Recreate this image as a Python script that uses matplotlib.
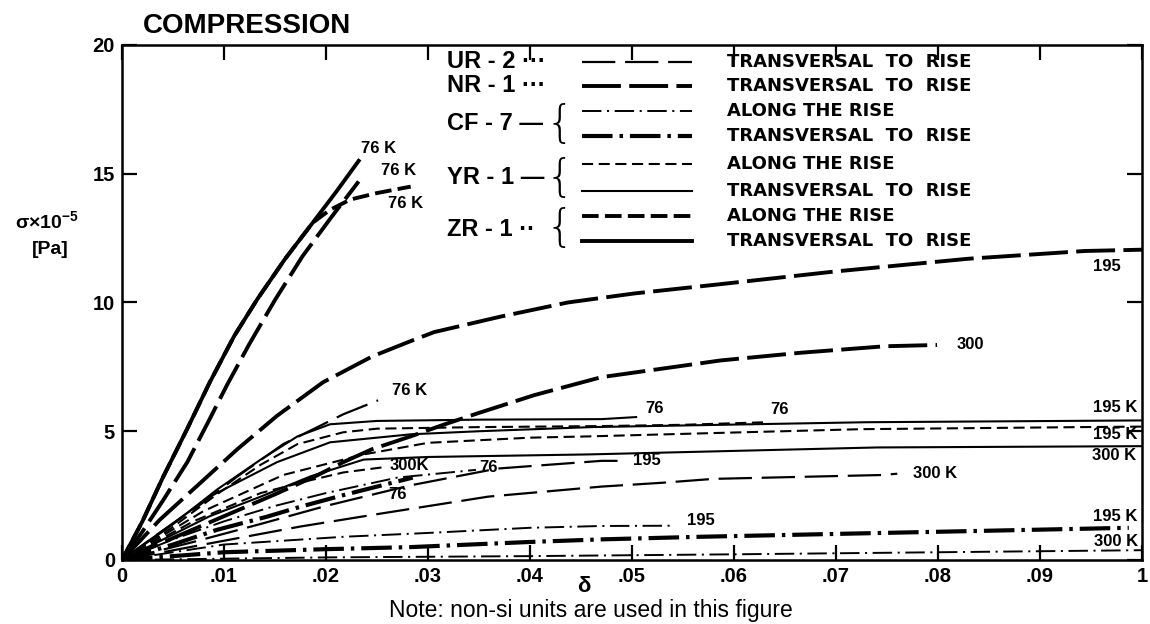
import matplotlib.pyplot as plt
from matplotlib.lines import Line2D

plt.rcParams['font.family'] = ['Liberation Sans', 'DejaVu Sans']
plt.rcParams['font.weight'] = 'bold'
plt.rcParams['lines.scale_dashes'] = False
plt.rcParams['mathtext.default'] = 'regular'

# strain delta vs. stress sigma x 1e-5 [Pa]
# NR-1, transversal to rise
nr1_76_x = [0, 0.002, 0.004, 0.0064, 0.0085, 0.0103, 0.0125, 0.015, 0.0177, 0.0205, 0.0232]
nr1_76_y = [0, 1.1, 2.3, 3.8, 5.4, 6.8, 8.4, 10.1, 11.8, 13.3, 14.7]
nr1_195_x = [0, 0.0037, 0.0077, 0.0113, 0.0152, 0.0197, 0.0245, 0.0283, 0.0306, 0.0371,
             0.0437, 0.0502, 0.0584, 0.0698, 0.083, 0.0944, 0.1]
nr1_195_y = [0, 1.56, 3.0, 4.3, 5.6, 6.9, 7.9, 8.5, 8.85, 9.45, 10.0, 10.35, 10.7, 11.2, 11.7, 12.0, 12.05]
nr1_300_x = [0, 0.005, 0.01, 0.015, 0.0192, 0.0217, 0.0245, 0.0283, 0.0315, 0.0349, 0.0404,
             0.047, 0.0587, 0.0666, 0.0748, 0.0799]
nr1_300_y = [0, 0.85, 1.7, 2.55, 3.3, 3.8, 4.3, 4.8, 5.25, 5.7, 6.4, 7.1, 7.75, 8.05, 8.3, 8.35]

# UR-2, transversal to rise
ur2_76_x = [0, 0.0035, 0.0074, 0.0113, 0.0158, 0.0217, 0.0251]
ur2_76_y = [0, 1.0, 2.07, 3.24, 4.5, 5.66, 6.2]
ur2_195_x = [0, 0.007, 0.0136, 0.02, 0.0283, 0.0368, 0.047, 0.049]
ur2_195_y = [0, 0.7, 1.4, 2.1, 2.9, 3.55, 3.85, 3.85]
ur2_300_x = [0, 0.008, 0.0175, 0.0247, 0.0359, 0.047, 0.053, 0.058, 0.0745, 0.076]
ur2_300_y = [0, 0.6, 1.3, 1.76, 2.46, 2.85, 3.0, 3.15, 3.3, 3.35]

# ZR-1
zr1_trans_76_x = [0, 0.002, 0.004, 0.0064, 0.0086, 0.011, 0.0133, 0.016, 0.0187, 0.021, 0.0232]
zr1_trans_76_y = [0, 1.5, 3.2, 5.1, 6.9, 8.7, 10.15, 11.7, 13.1, 14.3, 15.5]
zr1_along_76_x = [0, 0.002, 0.004, 0.0064, 0.0086, 0.011, 0.0133, 0.016, 0.0187, 0.0204,
                  0.0224, 0.025, 0.0283]
zr1_along_76_y = [0, 1.5, 3.2, 5.1, 6.9, 8.7, 10.15, 11.7, 13.1, 13.6, 14.0, 14.25, 14.5]

# YR-1
yr1_trans_76_x = [0, 0.0047, 0.0093, 0.0136, 0.0172, 0.0204, 0.025, 0.035, 0.047, 0.0504]
yr1_trans_76_y = [0, 1.3, 2.73, 3.9, 4.8, 5.27, 5.4, 5.45, 5.47, 5.55]
yr1_along_76_x = [0, 0.0047, 0.0093, 0.0136, 0.0172, 0.0217, 0.025, 0.035, 0.047, 0.055, 0.0632]
yr1_along_76_y = [0, 1.2, 2.55, 3.7, 4.5, 4.96, 5.1, 5.16, 5.2, 5.25, 5.35]
yr1_trans_195_x = [0, 0.0086, 0.0152, 0.0204, 0.0283, 0.035, 0.046, 0.073, 0.1]
yr1_trans_195_y = [0, 2.46, 3.8, 4.57, 4.88, 5.0, 5.16, 5.35, 5.42]
yr1_along_195_x = [0, 0.008, 0.0158, 0.0237, 0.03, 0.04, 0.0458, 0.06, 0.0725, 0.094, 0.1]
yr1_along_195_y = [0, 1.9, 3.3, 4.1, 4.55, 4.75, 4.8, 4.95, 5.08, 5.16, 5.18]
yr1_trans_300_x = [0, 0.0086, 0.0136, 0.0185, 0.0237, 0.03, 0.0458, 0.074, 0.1]
yr1_trans_300_y = [0, 1.7, 2.46, 3.25, 3.9, 4.0, 4.1, 4.37, 4.42]
yr1_along_300_x = [0, 0.007, 0.0136, 0.0185, 0.0217, 0.0256]
yr1_along_300_y = [0, 1.5, 2.6, 3.1, 3.4, 3.6]

# CF-7
cf7_along_76_x = [0, 0.005, 0.01, 0.015, 0.02, 0.027, 0.0347]
cf7_along_76_y = [0, 0.8, 1.5, 2.1, 2.6, 3.2, 3.5]
cf7_trans_76_x = [0, 0.005, 0.0093, 0.0142, 0.0175, 0.022, 0.027, 0.0285]
cf7_trans_76_y = [0, 0.6, 1.17, 1.68, 2.07, 2.55, 3.05, 3.2]
cf7_along_195_x = [0, 0.01, 0.0217, 0.03, 0.04, 0.047, 0.0538]
cf7_along_195_y = [0, 0.6, 0.9, 1.05, 1.25, 1.32, 1.33]
cf7_trans_195_x = [0, 0.01, 0.02, 0.0283, 0.04, 0.047, 0.0566, 0.0745, 0.0987]
cf7_trans_195_y = [0, 0.3, 0.42, 0.5, 0.7, 0.8, 0.9, 1.05, 1.25]
cf7_along_300_x = [0, 0.02, 0.04, 0.06, 0.08, 0.1]
cf7_along_300_y = [0, 0.1, 0.15, 0.22, 0.3, 0.38]

x_ticks = [0, 0.01, 0.02, 0.03, 0.04, 0.05, 0.06, 0.07, 0.08, 0.09, 0.1]
x_tick_labels = ['0', '.01', '.02', '.03', '.04', '.05', '.06', '.07', '.08', '.09', '1']
y_ticks = [0, 5, 10, 15, 20]
y_tick_labels = ['0', '5', '10', '15', '20']

STYLES = {
    'UR-2': dict(lw=1.6, ls=(0, (24, 7))),
    'NR-1': dict(lw=2.8, ls=(0, (28, 6))),
    'CF-7 along': dict(lw=1.4, ls=(0, (14, 4, 1.5, 4))),
    'CF-7 trans': dict(lw=3.0, ls=(0, (22, 5, 2.5, 5))),
    'YR-1 along': dict(lw=1.5, ls=(0, (8, 4))),
    'YR-1 trans': dict(lw=1.5, ls='-'),
    'ZR-1 along': dict(lw=2.8, ls=(0, (12, 4.5))),
    'ZR-1 trans': dict(lw=2.8, ls='-'),
}

# style, x, y, end label, label offset (points)
curves = [
    ('NR-1', nr1_76_x, nr1_76_y, '76 K', (29, 8)),
    ('NR-1', nr1_195_x, nr1_195_y, '195', (-25, -12)),
    ('NR-1', nr1_300_x, nr1_300_y, '300', (24, 0)),
    ('UR-2', ur2_76_x, ur2_76_y, '76 K', (23, 7)),
    ('UR-2', ur2_195_x, ur2_195_y, '195', (18, 0)),
    ('UR-2', ur2_300_x, ur2_300_y, '300 K', (27, 0)),
    ('ZR-1 trans', zr1_trans_76_x, zr1_trans_76_y, '76 K', (14, 9)),
    ('ZR-1 along', zr1_along_76_x, zr1_along_76_y, '76 K', (-4, -12)),
    ('YR-1 trans', yr1_trans_76_x, yr1_trans_76_y, '76', (13, 6)),
    ('YR-1 along', yr1_along_76_x, yr1_along_76_y, '76', (9, 9)),
    ('YR-1 trans', yr1_trans_195_x, yr1_trans_195_y, '195 K', (-19, 9)),
    ('YR-1 along', yr1_along_195_x, yr1_along_195_y, '195 K', (-19, -6)),
    ('YR-1 trans', yr1_trans_300_x, yr1_trans_300_y, '300 K', (-20, -7)),
    ('YR-1 along', yr1_along_300_x, yr1_along_300_y, '300K', (19, 1)),
    ('CF-7 along', cf7_along_76_x, cf7_along_76_y, '76', (9, 2)),
    ('CF-7 trans', cf7_trans_76_x, cf7_trans_76_y, '76', (-11, -12)),
    ('CF-7 along', cf7_along_195_x, cf7_along_195_y, '195', (22, 4)),
    ('CF-7 trans', cf7_trans_195_x, cf7_trans_195_y, '195 K', (-10, 8)),
    ('CF-7 along', cf7_along_300_x, cf7_along_300_y, '300 K', (-19, 6)),
]

fig = plt.figure(figsize=(11.5, 6.24), dpi=100)
ax = fig.add_axes([0.1061, 0.1026, 0.887, 0.8253])

for key, xs, ys, label, off in curves:
    st = STYLES[key]
    ax.plot(xs, ys, color='black', linewidth=st['lw'], linestyle=st['ls'])
    ax.annotate(label, xy=(xs[-1], ys[-1]), xytext=off, textcoords='offset points',
                ha='center', va='center', fontsize=12)

ax.set_xlim(0, 0.1)
ax.set_ylim(0, 20)
ax.set_xticks(x_ticks)
ax.set_xticklabels(x_tick_labels)
ax.set_yticks(y_ticks)
ax.set_yticklabels(y_tick_labels)
ax.tick_params(direction='in', length=11, width=1.6, top=True, right=True,
               labelsize=14.5, pad=5)
for sp in ax.spines.values():
    sp.set_linewidth(1.8)


def fx(px):
    return px / 1150


def fy(py):
    return 1 - py / 624


fig.text(fx(584), fy(587), 'δ', fontsize=16, ha='center', va='center')

# legend block drawn by hand
rows = [
    (62, 'UR-2', 'TRANSVERSAL  TO  RISE'),
    (86, 'NR-1', 'TRANSVERSAL  TO  RISE'),
    (111, 'CF-7 along', 'ALONG THE RISE'),
    (136, 'CF-7 trans', 'TRANSVERSAL  TO  RISE'),
    (164, 'YR-1 along', 'ALONG THE RISE'),
    (191, 'YR-1 trans', 'TRANSVERSAL  TO  RISE'),
    (216, 'ZR-1 along', 'ALONG THE RISE'),
    (241, 'ZR-1 trans', 'TRANSVERSAL  TO  RISE'),
]
for py, key, desc in rows:
    st = STYLES[key]
    fig.add_artist(Line2D([fx(582), fx(692)], [fy(py), fy(py)], color='black',
                          linewidth=st['lw'], linestyle=st['ls']))
    fig.text(fx(727), fy(py), desc, fontsize=13, ha='left', va='center',
             family='DejaVu Sans')

names = [(62, 'UR - 2 ···', None), (86, 'NR - 1 ···', None), (124, 'CF - 7 —', 124),
         (178, 'YR - 1 —', 178), (229, 'ZR - 1 ··', 229)]
for py, name, brace in names:
    fig.text(fx(447), fy(py), name, fontsize=17, ha='left', va='center')
    if brace is not None:
        fig.text(fx(560), fy(brace), '{', fontsize=32, ha='center', va='center',
                 family='DejaVu Sans', fontweight='light')

fig.text(fx(247), fy(26), 'COMPRESSION', fontsize=20, ha='center', va='center')
fig.text(fx(47), fy(221), 'σ×10$^{-5}$', fontsize=14, ha='center', va='center')
fig.text(fx(50), fy(250), '[Pa]', fontsize=14, ha='center', va='center')
fig.text(fx(591), fy(610), 'Note: non-si units are used in this figure',
         fontsize=16.5, fontweight='normal', ha='center', va='center')

fig.savefig('out.png', dpi=100)
